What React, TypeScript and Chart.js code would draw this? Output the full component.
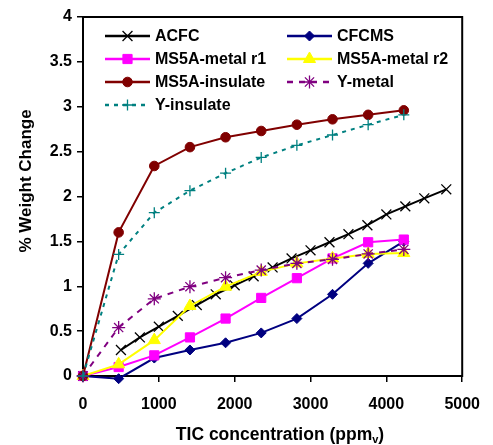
import React, { useEffect, useRef } from "react";
import { Chart, registerables } from "chart.js";
import { drawPoint } from "chart.js/helpers";

Chart.register(...registerables);

const xStd = [0, 470, 940, 1410, 1880, 2350, 2820, 3290, 3760, 4230];
const xAcfc = [500, 750, 1000, 1250, 1500, 1750, 2000, 2250, 2500, 2750, 3000, 3250, 3500, 3750, 4000, 4250, 4500, 4790];

const acfc = [0.29, 0.43, 0.55, 0.67, 0.79, 0.91, 1.01, 1.11, 1.21, 1.31, 1.40, 1.49, 1.58, 1.68, 1.80, 1.89, 1.98, 2.08];
const cfcms = [0, -0.03, 0.2, 0.29, 0.37, 0.48, 0.64, 0.91, 1.255, 1.5];
const ms5aMetalR1 = [0, 0.1, 0.23, 0.43, 0.64, 0.87, 1.09, 1.31, 1.49, 1.52];
const ms5aMetalR2 = [0, 0.13, 0.4, 0.78, 0.995, 1.16, 1.255, 1.31, 1.36, 1.37];
const ms5aInsulate = [0, 1.6, 2.34, 2.55, 2.66, 2.73, 2.8, 2.86, 2.91, 2.96];
const yMetal = [0, 0.54, 0.86, 0.995, 1.095, 1.18, 1.255, 1.3, 1.36, 1.41];
const yInsulate = [0, 1.355, 1.82, 2.065, 2.26, 2.435, 2.57, 2.685, 2.8, 2.91];

const seriesNames = ["ACFC", "CFCMS", "MS5A-metal r1", "MS5A-metal r2", "MS5A-insulate", "Y-metal", "Y-insulate"];
const yTicks = [0, 0.5, 1, 1.5, 2, 2.5, 3, 3.5, 4];
const xTicks = [0, 1000, 2000, 3000, 4000, 5000];

const FONT = "'Liberation Sans', Arial, sans-serif";

const pts = (xs: number[], ys: number[]) => ys.map((y, i) => ({ x: xs[i], y }));

export default function App() {
  const ref = useRef<HTMLCanvasElement | null>(null);

  useEffect(() => {
    if (!ref.current) return;
    const styles = [
      { color: "#000000", fill: "#000000", style: "crossRot", r: 7, bw: 1.3, dash: [] as number[] },
      { color: "#000080", fill: "#000080", style: "rectRot", r: 5, bw: 1, dash: [] },
      { color: "#FF00FF", fill: "#FF00FF", style: "rect", r: 6.5, bw: 1, dash: [] },
      { color: "#FFFF00", fill: "#FFFF00", style: "triangle", r: 7, bw: 1, dash: [] },
      { color: "#800000", fill: "#800000", style: "circle", r: 4.8, bw: 1, dash: [] },
      { color: "#800080", fill: "#800080", style: "star", r: 6.5, bw: 1.3, dash: [6, 6] },
      { color: "#008080", fill: "#008080", style: "cross", r: 5.5, bw: 1.3, dash: [4, 5] },
    ];
    const dataArr = [
      pts(xAcfc, acfc),
      pts(xStd, cfcms),
      pts(xStd, ms5aMetalR1),
      pts(xStd, ms5aMetalR2),
      pts(xStd, ms5aInsulate),
      pts(xStd, yMetal),
      pts(xStd, yInsulate),
    ];
    const datasets = seriesNames.map((name, i) => ({
      label: name,
      data: dataArr[i],
      borderColor: styles[i].color,
      backgroundColor: styles[i].fill,
      borderWidth: 2,
      borderDash: styles[i].dash,
      pointStyle: styles[i].style,
      pointRadius: styles[i].r,
      pointBorderWidth: styles[i].bw,
      pointBorderColor: styles[i].color,
      pointBackgroundColor: styles[i].fill,
      order: 10 - i,
      tension: 0,
      clip: false as any,
    }));

    const frame = {
      id: "frame",
      beforeDatasetsDraw(chart: any) {
        const { ctx, chartArea: a } = chart;
        ctx.save();
        ctx.strokeStyle = "#000";
        ctx.lineWidth = 2;
        ctx.strokeRect(a.left, a.top, a.right - a.left, a.bottom - a.top);
        ctx.restore();
      },
      afterDraw(chart: any) {
        const { ctx } = chart;
        ctx.save();
        // Legend
        const rowsY = [36, 59, 82, 105];
        const colLine = [[105, 150, 155], [287, 332, 337]];
        seriesNames.forEach((name, i) => {
          const col = i % 2;
          const row = Math.floor(i / 2);
          const y = rowsY[row];
          const [x0, x1, tx] = colLine[col];
          const s = styles[i];
          ctx.strokeStyle = s.color;
          ctx.lineWidth = 2.5;
          ctx.setLineDash(s.dash);
          ctx.beginPath();
          ctx.moveTo(x0, y);
          ctx.lineTo(x1, y);
          ctx.stroke();
          ctx.setLineDash([]);
          ctx.fillStyle = s.fill;
          ctx.strokeStyle = s.color;
          ctx.lineWidth = s.bw;
          drawPoint(ctx, { pointStyle: s.style as any, radius: s.r, rotation: 0, borderWidth: s.bw }, (x0 + x1) / 2, y);
          ctx.fillStyle = "#000";
          ctx.font = `bold 16px ${FONT}`;
          ctx.textAlign = "left";
          ctx.textBaseline = "middle";
          ctx.fillText(name, tx, y + 1);
        });
        // X title
        ctx.fillStyle = "#000";
        ctx.textBaseline = "alphabetic";
        const main = "TIC concentration (ppm";
        const sub = "v";
        const close = ")";
        const big = `bold 17.5px ${FONT}`;
        const small = `bold 11px ${FONT}`;
        ctx.font = big;
        const w1 = ctx.measureText(main).width;
        const w3 = ctx.measureText(close).width;
        ctx.font = small;
        const w2 = ctx.measureText(sub).width;
        const total = w1 + w2 + w3;
        const cx = 280;
        let x = cx - total / 2;
        const by = 440;
        ctx.textAlign = "left";
        ctx.font = big;
        ctx.fillText(main, x, by);
        x += w1;
        ctx.font = small;
        ctx.fillText(sub, x, by + 3);
        x += w2;
        ctx.font = big;
        ctx.fillText(close, x, by);
        // Y title
        ctx.translate(26, 181);
        ctx.rotate(-Math.PI / 2);
        ctx.textAlign = "center";
        ctx.textBaseline = "middle";
        ctx.font = `bold 17px ${FONT}`;
        ctx.fillText("% Weight Change", 0, 0);
        ctx.restore();
      },
    };

    const chart = new Chart(ref.current, {
      type: "line",
      data: { datasets: datasets as any },
      options: {
        animation: false,
        responsive: false,
        maintainAspectRatio: false,
        layout: { padding: { top: 17, right: 25, left: 0, bottom: 0 } },
        plugins: { legend: { display: false }, tooltip: { enabled: false } },
        scales: {
          x: {
            type: "linear",
            min: 0,
            max: 5000,
            afterFit: (s: any) => { s.height = 69; },
            afterBuildTicks: (s: any) => { s.ticks = xTicks.map((v) => ({ value: v })); },
            ticks: {
              color: "#000",
              font: { family: FONT, size: 16, weight: "bold" },
              padding: 13,
              maxRotation: 0,
              callback: (v: any) => String(v),
            },
            grid: { drawOnChartArea: false, drawTicks: true, tickLength: 6, color: "#000", lineWidth: 1.5 },
            border: { color: "#000", width: 2 },
          },
          y: {
            type: "linear",
            min: 0,
            max: 4,
            afterFit: (s: any) => { s.width = 83; },
            afterBuildTicks: (s: any) => { s.ticks = yTicks.map((v) => ({ value: v })); },
            ticks: {
              color: "#000",
              font: { family: FONT, size: 16, weight: "bold" },
              padding: 5,
              callback: (v: any) => String(v),
            },
            grid: { drawOnChartArea: false, drawTicks: true, tickLength: 6, color: "#000", lineWidth: 1.5 },
            border: { color: "#000", width: 2 },
          },
        },
      },
      plugins: [frame],
    });
    return () => chart.destroy();
  }, []);

  return (
    <div style={{ position: "fixed", left: 0, top: 0, width: 493, height: 445, background: "#fff" }}>
      <canvas ref={ref} width={493} height={445} style={{ display: "block" }} />
    </div>
  );
}
